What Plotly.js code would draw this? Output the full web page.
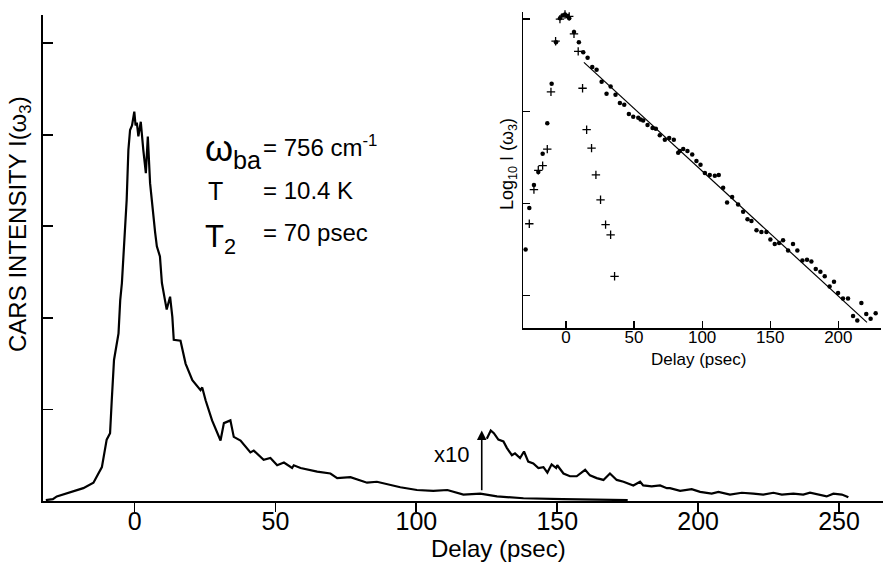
<!DOCTYPE html>
<html>
<head>
<meta charset="utf-8">
<script src="https://cdn.plot.ly/plotly-3.0.1.min.js"></script>
<style>html,body{margin:0;padding:0;background:#fff;}#chart{width:883px;height:562px;}</style>
</head>
<body>
<div id="chart"></div>
<script>
// ---- Main trace: CARS intensity (x1) ----
const mainDelay = [-31.5,-29,-27.6,-24.7,-21.7,-18.2,-14.6,-11.6,-9.9,-8.7,-8.1,-7.3,-5.7,-5.1,-4.5,-3.6,-2.8,-2.2,-1.6,-0.9,-0.1,0.35,0.8,1.35,2.2,3.1,4.0,4.7,4.9,5.5,7.3,7.9,9.0,9.7,10.8,11.4,12.6,13.4,13.9,16.3,18.1,20.5,23.4,24,25.2,27.5,30.5,31.7,34,35.2,37.6,41.1,42.3,45.8,48.2,50.6,53,55.9,56.5,58.9,64.8,69.5,71.9,76.6,82.5,86,94.3,100.2,106,111,116.7,122.7,128.6,138,152,164,175];
const mainIntensity = [0.01,0.02,0.05,0.08,0.11,0.14,0.2,0.37,0.67,0.74,1.1,1.54,1.83,2.19,2.38,2.93,3.29,3.83,4.05,4.10,4.25,4.10,4.13,3.98,4.14,3.83,3.58,3.98,3.80,3.47,2.93,2.78,2.67,2.38,2.19,2.09,2.23,2.01,1.76,1.75,1.5,1.32,1.21,1.24,1.1,0.88,0.66,0.85,0.88,0.7,0.66,0.53,0.55,0.45,0.47,0.39,0.42,0.36,0.39,0.36,0.32,0.30,0.25,0.26,0.2,0.21,0.15,0.12,0.11,0.12,0.07,0.08,0.05,0.03,0.02,0.015,0.01];

// ---- Magnified tail (x10) ----
const tailDelay = [125,126.4,127.5,129.1,130.9,132.1,133.9,135,136.8,138.2,139.7,141.5,143.3,145.1,146.5,148,149.6,150,152.2,154.5,156.9,159.9,161.6,164,166.4,168.7,171.1,173.5,177,179.4,180.5,183.5,186.5,188.9,190,193.6,197.7,200.7,204.8,207.2,211.3,215.5,219.6,223.1,226.7,229.7,233.8,237.3,239.7,243.3,245.6,248,251,252.7,253.3];
const tailIntensity = [0.68,0.77,0.74,0.67,0.65,0.58,0.50,0.52,0.47,0.54,0.43,0.41,0.36,0.37,0.31,0.40,0.36,0.39,0.30,0.27,0.27,0.34,0.28,0.25,0.23,0.30,0.23,0.21,0.17,0.21,0.17,0.16,0.17,0.14,0.14,0.11,0.13,0.10,0.08,0.10,0.07,0.09,0.08,0.07,0.09,0.07,0.08,0.07,0.09,0.07,0.05,0.08,0.07,0.05,0.04];

// ---- Inset: log10 intensity, dots ----
const dotDelay = [-29.6,-26.9,-23.5,-20.3,-17.1,-13.7,-10.5,-7.3,-4.4,-2.4,-0.7,1,2.4,5.9,9.5,12.7,15.9,19.3,22.5,26.2,29.8,32.8,36.4,39.6,42.8,46.2,49.4,53.1,54.8,56.7,59.9,63.6,66,68.9,72.6,75.8,79.2,82.4,83.6,86.1,89.2,92.7,95.8,98.8,102,105.6,109.3,112.2,115.4,118.3,122,126.4,130.1,133.3,136.2,139.9,143.5,147.2,150.1,153.3,156.5,159.4,163.1,166.7,169.9,173.6,177,180.2,183.4,186.8,190,193.6,196.8,199.8,203.4,207.1,210.8,213.9,216.9,220.5,223.7,227.4];
const dotLog = [1.50,1.95,2.20,2.34,2.54,2.87,3.30,3.75,4.01,4.04,4.05,4.03,4.01,3.86,3.75,3.64,3.58,3.48,3.45,3.32,3.19,3.27,3.18,3.09,3.07,2.97,2.94,2.93,2.91,2.90,2.85,2.82,2.81,2.74,2.69,2.71,2.69,2.55,2.57,2.59,2.57,2.53,2.46,2.42,2.33,2.31,2.30,2.31,2.17,2.01,2.07,1.99,1.91,1.83,1.81,1.71,1.69,1.69,1.61,1.56,1.57,1.60,1.49,1.56,1.49,1.38,1.39,1.37,1.29,1.26,1.21,1.10,1.15,1.03,0.97,0.97,0.78,0.73,0.92,0.80,0.75,0.81];

// ---- Inset: crosses (instrument response) ----
const crossDelay = [-26.9,-23.5,-20.3,-17.1,-13.7,-11,-7.6,-4.4,-0.7,2.4,5.9,9.0,12.2,15.2,18.8,22,25.4,29.1,32.8,35.7];
const crossLog = [1.78,2.15,2.36,2.41,2.59,3.21,3.76,4.00,4.05,4.03,3.84,3.65,3.25,2.80,2.60,2.31,2.04,1.77,1.66,1.21];

// ---- Inset: fitted line ----
const fitDelay = [13.2,221];
const fitLog = [3.53,0.71];

// ---- Labels ----
const mainXTicks = [0,50,100,150,200,250];
const insetXTicks = [0,50,100,150,200];
const mainYTicks = [1,2,3,4,5];
const insetYTicks = [1,2,3,4];

const FONT = 'Liberation Sans, Arial, sans-serif';
const black = '#000';

const traces = [
  {x: mainDelay, y: mainIntensity, type: 'scatter', mode: 'lines', line: {color: black, width: 2.2}, xaxis: 'x', yaxis: 'y', hoverinfo: 'skip', cliponaxis: false},
  {x: tailDelay, y: tailIntensity, type: 'scatter', mode: 'lines', line: {color: black, width: 2.2}, xaxis: 'x', yaxis: 'y', hoverinfo: 'skip', cliponaxis: false},
  {x: fitDelay, y: fitLog, type: 'scatter', mode: 'lines', line: {color: black, width: 1.2}, xaxis: 'x2', yaxis: 'y2', hoverinfo: 'skip'},
  {x: dotDelay, y: dotLog, type: 'scatter', mode: 'markers', marker: {color: black, size: 4.5, symbol: 'circle'}, xaxis: 'x2', yaxis: 'y2', hoverinfo: 'skip', cliponaxis: false},
  {x: crossDelay, y: crossLog, type: 'scatter', mode: 'markers', marker: {size: 6, symbol: 'cross-thin', line: {color: black, width: 1.3}}, xaxis: 'x2', yaxis: 'y2', hoverinfo: 'skip', cliponaxis: false}
];

const axisCommon = {showgrid: false, zeroline: false, showline: true, linecolor: black, tickcolor: black, fixedrange: true};

const layout = {
  width: 883, height: 562,
  margin: {l: 43, r: 0, t: 12, b: 61},
  paper_bgcolor: '#fff', plot_bgcolor: 'rgba(0,0,0,0)',
  showlegend: false,
  font: {family: FONT, color: black},
  xaxis: Object.assign({}, axisCommon, {
    domain: [0, 1], range: [-32.5, 265.6], anchor: 'y',
    tickvals: mainXTicks, ticks: 'outside', ticklen: 9, tickwidth: 1.8, linewidth: 2,
    ticklabelstandoff: -12,
    tickfont: {size: 25, family: FONT, color: black}
  }),
  yaxis: Object.assign({}, axisCommon, {
    domain: [0, 0.9939], range: [0, 5.306], anchor: 'x',
    tickvals: mainYTicks, ticks: 'inside', ticklen: 10, tickwidth: 1.8, linewidth: 2,
    showticklabels: false
  }),
  xaxis2: Object.assign({}, axisCommon, {
    domain: [0.5718, 0.9976], range: [-31.3, 231.3], anchor: 'y2',
    tickvals: insetXTicks, ticks: 'inside', ticklen: 7, tickwidth: 1.3, linewidth: 1.5,
    ticklabelstandoff: -7,
    tickfont: {size: 17, family: FONT, color: black}
  }),
  yaxis2: Object.assign({}, axisCommon, {
    domain: [0.3532, 1], range: [0.646, 4.077], anchor: 'x2',
    tickvals: insetYTicks, ticks: 'inside', ticklen: 7, tickwidth: 1.3, linewidth: 1.5,
    showticklabels: false
  }),
  annotations: [
    // axis titles
    {xref: 'paper', yref: 'paper', x: -0.0274, y: 0.5665, text: 'CARS INTENSITY I(ω<sub>3</sub>)', textangle: -90, showarrow: false, xanchor: 'center', yanchor: 'middle', font: {size: 24, family: FONT}},
    {xref: 'paper', yref: 'paper', x: 0.5417, y: -0.098, text: 'Delay (psec)', showarrow: false, xanchor: 'center', yanchor: 'middle', font: {size: 24, family: FONT}},
    {xref: 'paper', yref: 'paper', x: 0.5536, y: 0.689, text: 'Log<sub>10</sub> I (ω<sub>3</sub>)', textangle: -90, showarrow: false, xanchor: 'center', yanchor: 'middle', font: {size: 18, family: FONT}},
    {xref: 'paper', yref: 'paper', x: 0.7798, y: 0.290, text: 'Delay (psec)', showarrow: false, xanchor: 'center', yanchor: 'middle', font: {size: 17, family: FONT}},
    // parameters
    {xref: 'paper', yref: 'paper', x: 0.1905, y: 0.715, text: 'ω<sub>ba</sub>', showarrow: false, xanchor: 'left', yanchor: 'middle', font: {size: 36, family: FONT}},
    {xref: 'paper', yref: 'paper', x: 0.2595, y: 0.726, text: '= 756 cm<sup>-1</sup>', showarrow: false, xanchor: 'left', yanchor: 'middle', font: {size: 24, family: FONT}},
    {xref: 'paper', yref: 'paper', x: 0.1935, y: 0.634, text: 'T', showarrow: false, xanchor: 'left', yanchor: 'middle', font: {size: 25, family: FONT}},
    {xref: 'paper', yref: 'paper', x: 0.2595, y: 0.634, text: '= 10.4 K', showarrow: false, xanchor: 'left', yanchor: 'middle', font: {size: 24, family: FONT}},
    {xref: 'paper', yref: 'paper', x: 0.1905, y: 0.535, text: 'T<sub>2</sub>', showarrow: false, xanchor: 'left', yanchor: 'middle', font: {size: 31, family: FONT}},
    {xref: 'paper', yref: 'paper', x: 0.2595, y: 0.550, text: '= 70 psec', showarrow: false, xanchor: 'left', yanchor: 'middle', font: {size: 24, family: FONT}},
    // x10 marker
    {xref: 'x', yref: 'y', x: 112.5, y: 0.51, text: 'x10', showarrow: false, xanchor: 'center', yanchor: 'middle', font: {size: 22, family: FONT}},
    {xref: 'x', yref: 'y', axref: 'x', ayref: 'y', x: 123.2, y: 0.77, ax: 123.2, ay: 0.10, text: '', showarrow: true, arrowhead: 2, arrowsize: 1.2, arrowwidth: 1.6, arrowcolor: black}
  ]
};

Plotly.newPlot('chart', traces, layout, {displayModeBar: false, staticPlot: true});
</script>
</body>
</html>
